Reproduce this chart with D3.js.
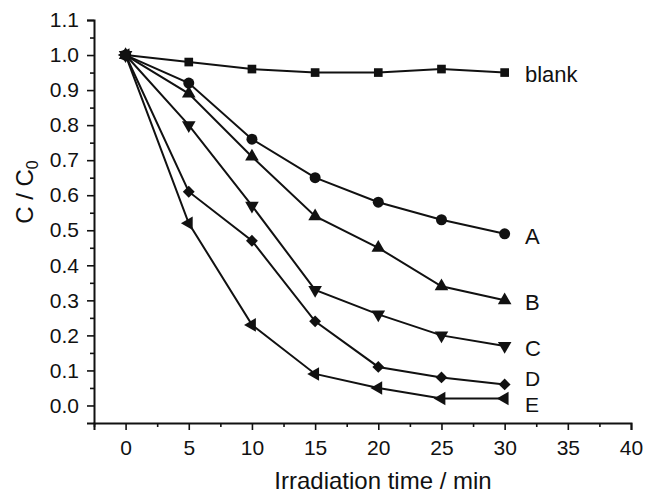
<!DOCTYPE html>
<html><head><meta charset="utf-8">
<script src="https://cdn.jsdelivr.net/npm/d3@7"></script>
<style>body{margin:0;background:#fff}svg{display:block}text{font-family:"Liberation Sans",Arial,sans-serif;fill:#111}</style>
</head><body><svg id="c" width="646" height="493"></svg>
<script>
const times = [0, 5, 10, 15, 20, 25, 30];
const seriesNames = ["blank", "A", "B", "C", "D", "E"];
const blank = [1.0, 0.98, 0.96, 0.95, 0.95, 0.96, 0.95];
const seriesA = [1.0, 0.92, 0.76, 0.65, 0.58, 0.53, 0.49];
const seriesB = [1.0, 0.89, 0.71, 0.54, 0.45, 0.34, 0.30];
const seriesC = [1.0, 0.80, 0.57, 0.33, 0.26, 0.20, 0.17];
const seriesD = [1.0, 0.61, 0.47, 0.24, 0.11, 0.08, 0.06];
const seriesE = [1.0, 0.52, 0.23, 0.09, 0.05, 0.02, 0.02];
const xTicks = [0, 5, 10, 15, 20, 25, 30, 35, 40];
const yTicks = [0.0, 0.1, 0.2, 0.3, 0.4, 0.5, 0.6, 0.7, 0.8, 0.9, 1.0, 1.1];

const allSeries = [blank, seriesA, seriesB, seriesC, seriesD, seriesE];
const markers = ["square", "circle", "up", "down", "diamond", "left"];

const svg = d3.select("#c");
const x = d3.scaleLinear().domain([-2.5, 40]).range([94, 631]);
const y = d3.scaleLinear().domain([-0.05, 1.1]).range([423, 20]);

// axes
const xAxis = svg.append("g").attr("transform", `translate(0,${y(-0.05)})`)
  .call(d3.axisBottom(x).tickValues(xTicks).tickFormat(d3.format("d")).tickSize(7).tickPadding(10));
const xMinor = svg.append("g").attr("transform", `translate(0,${y(-0.05)})`)
  .call(d3.axisBottom(x).tickValues(d3.range(-2.5, 40, 5)).tickFormat("").tickSize(4));
const yAxis = svg.append("g").attr("transform", `translate(${x(-2.5)},0)`)
  .call(d3.axisLeft(y).tickValues(yTicks).tickFormat(d3.format(".1f")).tickSize(7).tickPadding(8));
const yMinor = svg.append("g").attr("transform", `translate(${x(-2.5)},0)`)
  .call(d3.axisLeft(y).tickValues(d3.range(0.05, 1.1, 0.1)).tickFormat("").tickSize(4));
[xAxis, xMinor, yAxis, yMinor].forEach(g => {
  g.select(".domain").attr("stroke", "#111").attr("stroke-width", 2);
  g.selectAll(".tick line").attr("stroke", "#111").attr("stroke-width", 1.6);
  g.selectAll(".tick text").attr("font-size", 21).attr("fill", "#111")
    .style("font-family", '"Liberation Sans",Arial,sans-serif');
});
xMinor.select(".domain").remove(); yMinor.select(".domain").remove();

// axis titles
svg.append("text").attr("x", 383).attr("y", 489).attr("text-anchor", "middle")
  .attr("font-size", 24).text("Irradiation time / min");
const yt = svg.append("text").attr("transform", "translate(33,192) rotate(-90)")
  .attr("text-anchor", "middle").attr("font-size", 24);
yt.append("tspan").text("C / C");
yt.append("tspan").attr("font-size", 16).attr("dy", 5).text("0");

// lines
const line = d3.line().x((d, i) => x(times[i])).y(d => y(d));
const sym = {
  square: d3.symbol().type(d3.symbolSquare).size(75),
  circle: d3.symbol().type(d3.symbolCircle).size(95),
  diamond: d3.symbol().type(d3.symbolSquare).size(70),
  tri: d3.symbol().type(d3.symbolTriangle).size(80)
};
const rot = {up: 0, down: 180, left: -90, diamond: 45};
allSeries.forEach((s, k) => {
  svg.append("path").datum(s).attr("d", line).attr("fill", "none")
    .attr("stroke", "#111").attr("stroke-width", 2);
  const m = markers[k];
  const isTri = (m === "up" || m === "down" || m === "left");
  svg.append("g").selectAll("path").data(s).join("path")
    .attr("transform", (d, i) => `translate(${x(times[i])},${y(d)})` + (rot[m] !== undefined ? ` rotate(${rot[m]})` : ""))
    .attr("d", isTri ? sym.tri() : sym[m]())
    .attr("fill", "#111");
});

// series labels
const labelY = [0.95, 0.49, 0.30, 0.17, 0.06, 0.02];
const labelDy = [9, 10, 10, 10, 2, 14];
seriesNames.forEach((n, k) => {
  svg.append("text").attr("x", 525).attr("y", y(labelY[k]) + labelDy[k])
    .attr("font-size", k >= 4 ? 21 : 22).text(n);
});
</script></body></html>
